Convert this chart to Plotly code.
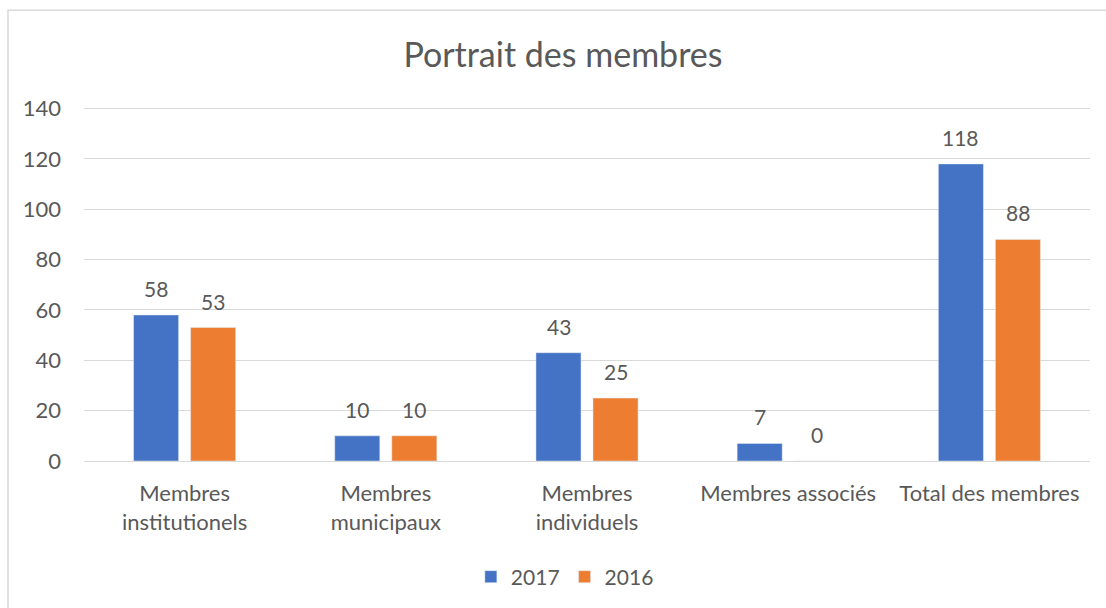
import plotly.graph_objects as go

categories = ["Membres<br>institutionels", "Membres<br>municipaux", "Membres<br>individuels",
              "Membres associés", "Total des membres"]
values_2017 = [58, 10, 43, 7, 118]
values_2016 = [53, 10, 25, 0, 88]
y_ticks = [0, 20, 40, 60, 80, 100, 120, 140]

FONT = "Lato"
GREY = "#595959"

W, H = 1106, 608
L, R, T, B = 84, 16, 106, 146
ph = H - T - B
pw = W - L - R

fig = go.Figure()
fig.add_trace(go.Bar(name="2017", x=categories, y=values_2017, marker_color="#4472C4"))
fig.add_trace(go.Bar(name="2016", x=categories, y=values_2016, marker_color="#ED7D31"))

annotations = []
for vals, shift in ((values_2017, -28.5), (values_2016, 28.5)):
    for c, v in zip(categories, vals):
        annotations.append(dict(x=c, y=v, xref="x", yref="y", text=str(v), showarrow=False,
                                xshift=shift, yshift=12, yanchor="bottom",
                                font=dict(size=21, color=GREY, family=FONT)))

fig.update_layout(
    width=W, height=H,
    margin=dict(l=L, r=R, t=T, b=B),
    paper_bgcolor="white", plot_bgcolor="white",
    font=dict(family=FONT, color=GREY, size=21),
    barmode="group", bargap=0.433, bargroupgap=0.21,
    title=dict(text="Portrait des membres", x=0.509, xanchor="center",
               y=1 - 55 / H, yanchor="middle", font=dict(size=34, color=GREY, family=FONT)),
    legend=dict(orientation="h", x=0.478, xanchor="center", y=(462 - 577) / ph, yanchor="middle",
                font=dict(size=21, color=GREY), itemwidth=30, traceorder="normal"),
    xaxis=dict(showgrid=False, showline=False, ticks="", tickfont=dict(size=22, color=GREY),
               ticklabelstandoff=17),
    yaxis=dict(range=[0, 141], tickvals=y_ticks, showgrid=True, gridcolor="#D9D9D9",
               gridwidth=1, zeroline=True, zerolinecolor="#D9D9D9", zerolinewidth=1,
               showline=False, ticks="", tickfont=dict(size=22, color=GREY),
               ticklabelstandoff=22),
    annotations=annotations,
    shapes=[dict(type="rect", xref="paper", yref="paper",
                 x0=(8 - L) / pw, x1=(1200 - L) / pw,
                 y0=(H - B - 10) / ph, y1=(H - B - 700) / ph,
                 line=dict(color="#D9D9D9", width=1.5), fillcolor="rgba(0,0,0,0)", layer="below")],
)

fig.write_html("out.html", config={"displayModeBar": False},
               post_script="document.body.style.margin='0';")
